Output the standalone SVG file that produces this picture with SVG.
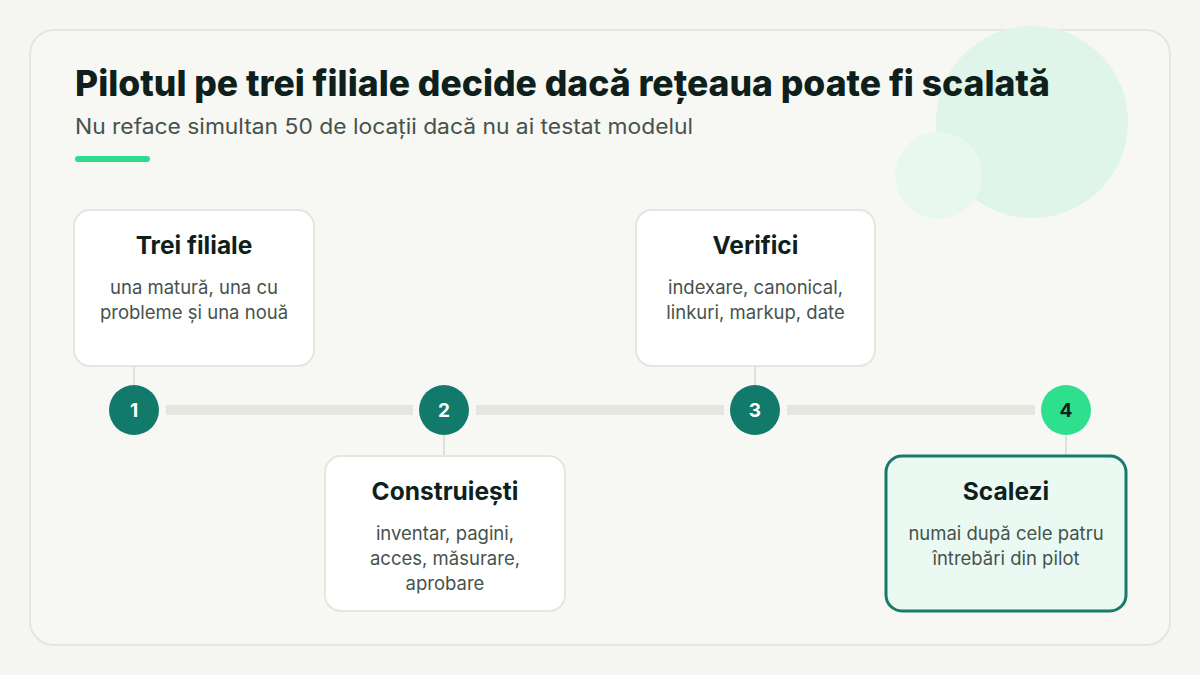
<svg xmlns="http://www.w3.org/2000/svg" width="1200" height="675" viewBox="0 0 1200 675">
  <style>
    .title { font-family: Inter, "Noto Sans", "DejaVu Sans", sans-serif; font-weight: 800; fill: #0f1f1b; }
    .sub { font-family: Inter, "Noto Sans", "DejaVu Sans", sans-serif; font-weight: 400; fill: #46524d; }
    .card { fill: #ffffff; stroke: #e6e6e0; stroke-width: 2; }
    .card-final { fill: #eafaf2; stroke: #177a6b; stroke-width: 3; }
    .ct { font-family: Inter, "Noto Sans", "DejaVu Sans", sans-serif; font-weight: 700; font-size: 24.5px; fill: #0f1f1b; text-anchor: middle; }
    .cd { font-family: Inter, "Noto Sans", "DejaVu Sans", sans-serif; font-weight: 400; font-size: 18.5px; fill: #46524d; text-anchor: middle; }
    .dot { fill: #127a6a; }
    .dot-final { fill: #2ee08e; }
    .num { font-family: Inter, "Noto Sans", "DejaVu Sans", sans-serif; font-weight: 700; font-size: 19px; fill: #ffffff; text-anchor: middle; }
    .num-final { fill: #0f1f1b; }
    .track { fill: #e6e6e1; }
    .stub { stroke: #e0e0da; stroke-width: 2; }
  </style>
  <rect width="1200" height="675" fill="#f5f5f1"/>
  <rect x="30" y="30" width="1140" height="615" rx="24" fill="#f7f7f3" stroke="#e6e6e0" stroke-width="2"/>
  <circle cx="1032" cy="122" r="96" fill="#dff5ea"/>
  <circle cx="938.5" cy="175.5" r="43.5" fill="#e8f8f0"/>

  <g id="header">
    <text class="title" x="75" y="96" font-size="36" textLength="975" lengthAdjust="spacingAndGlyphs">Pilotul pe trei filiale decide dacă rețeaua poate fi scalată</text>
    <text class="sub" x="75" y="134" font-size="21" textLength="618" lengthAdjust="spacingAndGlyphs">Nu reface simultan 50 de locații dacă nu ai testat modelul</text>
    <rect x="75" y="156" width="75" height="6" rx="3" fill="#2ddc8c"/>
  </g>

  <g id="connectors">
    <rect class="track" x="166" y="405" width="247" height="10"/>
    <rect class="track" x="476" y="405" width="248" height="10"/>
    <rect class="track" x="787" y="405" width="248" height="10"/>
    <line class="stub" x1="134" y1="366" x2="134" y2="385"/>
    <line class="stub" x1="444" y1="435" x2="444" y2="456"/>
    <line class="stub" x1="755" y1="366" x2="755" y2="385"/>
    <line class="stub" x1="1066" y1="435" x2="1066" y2="456"/>
  </g>

  <g id="step1">
    <circle class="dot" cx="134" cy="410" r="25"/>
    <text class="num" x="134" y="417">1</text>
    <rect class="card" x="74" y="210" width="240" height="156" rx="16"/>
    <text class="ct" x="194" y="254">Trei filiale</text>
    <text class="cd" x="194" y="294">una matură, una cu</text>
    <text class="cd" x="194" y="319">probleme și una nouă</text>
  </g>

  <g id="step2">
    <circle class="dot" cx="444" cy="410" r="25"/>
    <text class="num" x="444" y="417">2</text>
    <rect class="card" x="325" y="456" width="240" height="155" rx="16"/>
    <text class="ct" x="445" y="500">Construiești</text>
    <text class="cd" x="445" y="540">inventar, pagini,</text>
    <text class="cd" x="445" y="565">acces, măsurare,</text>
    <text class="cd" x="445" y="590">aprobare</text>
  </g>

  <g id="step3">
    <circle class="dot" cx="755" cy="410" r="25"/>
    <text class="num" x="755" y="417">3</text>
    <rect class="card" x="636" y="210" width="239" height="156" rx="16"/>
    <text class="ct" x="755.5" y="254">Verifici</text>
    <text class="cd" x="755.5" y="294">indexare, canonical,</text>
    <text class="cd" x="755.5" y="319">linkuri, markup, date</text>
  </g>

  <g id="step4">
    <circle class="dot-final" cx="1066" cy="410" r="25"/>
    <text class="num num-final" x="1066" y="417">4</text>
    <rect class="card-final" x="886" y="456" width="240" height="155" rx="16"/>
    <text class="ct" x="1006" y="500">Scalezi</text>
    <text class="cd" x="1006" y="540">numai după cele patru</text>
    <text class="cd" x="1006" y="565">întrebări din pilot</text>
  </g>
</svg>
